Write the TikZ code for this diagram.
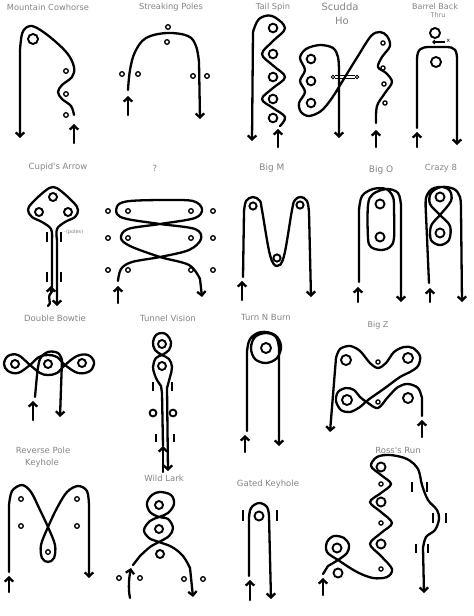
\documentclass[tikz,border=0pt]{standalone}
\usepackage{fontspec}
\newfontfamily\ttlfont{DejaVu Sans}
\usetikzlibrary{arrows.meta}
\tikzset{
  pth/.style={line width=2.3pt, line cap=round, line join=round},
  arr/.style={pth, -{Straight Barb[length=4pt,width=8.5pt]}},
  pole/.style={line width=1.3pt},
  barrel/.style={line width=1.9pt},
  gatebar/.style={line width=1.7pt},
  ttl/.style={text=black!48, inner sep=0pt, font=\ttlfont\fontsize{#1}{#1}\selectfont},
  ttl/.default=8.5
}
\begin{document}
\begin{tikzpicture}[x=1pt,y=-1pt]
\useasboundingbox[fill=white] (0,0) rectangle (474,616);

% ---------- titles ----------
\node[ttl=8.3] (t1)  at (48,7)    {Mountain Cowhorse};
\node[ttl=8.3] (t2)  at (171,7)   {Streaking Poles};
\node[ttl=8.3] (t3)  at (273,7)   {Tail Spin};
\node[ttl=10]  (t4a) at (340,7)   {Scudda};
\node[ttl=10]  (t4b) at (342,21)  {Ho};
\node[ttl=8]   (t5a) at (435,7)   {Barrel Back};
\node[ttl=6.5] (t5b) at (438,15)  {Thru};
\node[ttl]     (t6)  at (58,167)  {Cupid's Arrow};
\node[ttl]     (t7)  at (155,168) {?};
\node[ttl=9]   (t8)  at (272,168) {Big M};
\node[ttl=9]   (t9)  at (381,170) {Big O};
\node[ttl]     (t10) at (441,168) {Crazy 8};
\node[ttl]     (t11) at (55,318)  {Double Bowtie};
\node[ttl]     (t12) at (168,318) {Tunnel Vision};
\node[ttl]     (t13) at (266,317) {Turn N Burn};
\node[ttl=8]   (t14) at (378,325) {Big Z};
\node[ttl]     (t15a) at (43,450) {Reverse Pole};
\node[ttl]     (t15b) at (42,463) {Keyhole};
\node[ttl]     (t16) at (164,478) {Wild Lark};
\node[ttl]     (t17) at (268,484) {Gated Keyhole};
\node[ttl]     (t18) at (398,450) {Ross's Run};

% ---------- 1 Mountain Cowhorse ----------
\draw[barrel] (33,39) circle (5);
\foreach \y in {71,94,115} \draw[pole] (66,\y) circle (2.3);
\draw[arr] (74,143) -- (74,124);
\draw[arr] plot[smooth,tension=.6] coordinates {(74,115) (71,106) (62,99) (58,92) (62,85) (72,77) (74,67) (67,53) (50,37) (35,27) (27,27) (22,34) (20,50)} -- (20,138);

% ---------- 2 Streaking Poles ----------
\foreach \p in {(168,27),(167,42),(122,74),(138,74),(193,76),(207,76)} \draw[pole] \p circle (2.3);
\draw[arr] (128,115) -- (128,96);
\draw[arr] plot[smooth,tension=.6] coordinates {(128,90) (130,70) (135,52) (146,38) (167,33) (188,36) (196,46) (199,62)} -- (200,119);

% ---------- 3 Tail Spin ----------
\foreach \y in {28,54,77,99,118} \draw[barrel] (273,\y) circle (4.3);
\draw[arr] (278,147) -- (278,129);
\draw[arr] plot[smooth,tension=.6] coordinates {(280,126) (285,117) (273,108) (262,99) (273,88) (285,77) (273,65.5) (262,54) (273,41) (285,28) (272,16) (259,19) (253,32)} -- (252,141);

% ---------- 4 Scudda Ho ----------
\foreach \y in {59,81,103} \draw[barrel] (311,\y) circle (4.3);
\foreach \p in {(383,43),(383,68),(384,84),(385,103)} \draw[pole] \p circle (2.1);
\draw[arr] (376,147) -- (376,130);
\draw[arr] plot[smooth,tension=.55] coordinates {(376,123) (377,106) (385,93) (392,82) (386,73) (378,67) (382,57) (390,46) (387,36) (380,32) (371,36) (358,56) (345,77) (332,98) (321,111) (309,116) (301,112) (299,103) (305,92) (300,81) (305,70) (300,58) (306,49) (320,45) (333,48) (338,57) (339,70)} -- (339,138);
\draw[line width=0.9pt] (333,77) circle (1.8) (357,77) circle (1.8);
\draw[line width=0.9pt] (335,75.8) -- (355,75.8) (335,78.4) -- (355,78.4);

% ---------- 5 Barrel Back Thru ----------
\draw[barrel] (435,33) circle (5);
\draw[barrel] (436,62) circle (5);
\draw[arr] (417,147) -- (417,132);
\draw[arr] (417,128) -- (417,60) .. controls (417,49) and (421,47) .. (430,47) -- (446,47) .. controls (455,47) and (457,50) .. (457,60) -- (457,145);
\draw[line width=1.1pt, -{Straight Barb[length=2pt,width=4pt]}] (445,42) -- (432,42);
\node[inner sep=0pt, font=\ttlfont\fontsize{6}{6}\selectfont] (bx) at (448.5,41) {x};

% ---------- 6 Cupid's Arrow ----------
\draw[barrel] (53,197) circle (4);
\draw[barrel] (39,212) circle (4);
\draw[barrel] (68,212) circle (4);
\draw[arr] (48,306) .. controls (53,303) and (46,298) .. (51,293) -- (51,286);
\draw[arr] (52,292) -- plot[smooth,tension=.6] coordinates {(52,240) (51,229) (42,222) (32,217) (28,210) (32,203) (45,191) (53,187) (61,191) (74,203) (78,210) (75,217) (65,222) (57,229) (57,240)} -- (57,306);
\foreach \x in {47,61} {\draw[gatebar] (\x,232) -- (\x,242); \draw[gatebar] (\x,272) -- (\x,282);}
\node[text=black!50, inner sep=0pt, anchor=west, font=\ttlfont\fontsize{5}{5}\selectfont] (plab) at (64,232) {-(poles)};

% ---------- 7 ? ----------
\foreach \x in {108,128,191,213} {\draw[pole] (\x,211) circle (2.3); \draw[pole] (\x,238) circle (2.3); \draw[pole] (\x,270) circle (2.3);}
\draw[arr] (118,303) -- (118,286);
\draw[arr] plot[smooth,tension=.55] coordinates {(118,281) (121,269) (132,262) (160,257) (189,250) (201,239) (195,229) (160,224) (127,219) (117,214) (118,205) (130,201) (165,200) (193,201) (202,209) (195,218) (160,224) (128,229) (121,238) (130,246) (160,257) (189,265) (200,279)} -- (202,297);

% ---------- 8 Big M ----------
\draw[barrel] (253,206) circle (3.6);
\draw[barrel] (300,205) circle (3.6);
\draw[barrel] (277,258) circle (3.6);
\draw[arr] (242,300) -- (242,281);
\draw[arr] (243,277) -- plot[smooth,tension=.6] coordinates {(244,212) (246,201) (253,197) (260,201) (262,210) (270,255) (277,266) (284,256) (292,210) (295,200) (301,197) (307,201) (309,212)} -- (311,297);

% ---------- 9 Big O ----------
\draw[barrel] (380,204) circle (4.5);
\draw[barrel] (380,237) circle (4.5);
\draw[arr] (358,302) -- (358,287);
\draw[arr] (359,282) -- plot[smooth,tension=.55] coordinates {(359,210) (362,196) (373,189) (386,189) (393,197) (394,210) (394,238) (390,247) (381,250) (371,247) (368,238) (368,205) (373,194) (387,189) (398,193) (401,205)} -- (401,302);

% ---------- 10 Crazy 8 ----------
\draw[barrel] (440,197) circle (4.5);
\draw[barrel] (440,233) circle (4.5);
\draw[arr] (430,302) -- (430,288);
\draw[arr] (429,283) -- plot[smooth,tension=.55] coordinates {(426,215) (426,198) (432,189) (443,187) (450,191) (451,201) (440,215) (431,226) (431,240) (440,245) (449,240) (450,226) (440,215) (430,204) (431,193) (441,187) (454,189) (460,197) (461,210)} -- (462,302);

% ---------- 11 Double Bowtie ----------
\draw[barrel] (15,364) circle (4);
\draw[barrel] (48,364) circle (4);
\draw[barrel] (82,363) circle (4);
\draw[pth] plot[smooth cycle,tension=.6] coordinates {(30,365) (18,373) (8,371) (4,364) (8,356) (18,355) (30,365) (40,373) (48,375) (57,373) (65,365) (77,356) (88,355) (94,362) (90,371) (78,373) (65,365) (57,357) (48,355) (39,357)};
\draw[arr] (33,420) -- (33,401);
\draw[arr] (35,397) -- plot[smooth,tension=.6] coordinates {(37,375) (40,359) (48,352) (58,353) (62,360)} -- (60,417);

% ---------- 12 Tunnel Vision ----------
\draw[barrel] (162,344) circle (4);
\draw[barrel] (162,366) circle (4);
\draw[barrel] (153,413) circle (3.4);
\draw[barrel] (173,413) circle (3.4);
\draw[gatebar] (153,382) -- (153,391); \draw[gatebar] (172,382) -- (172,391);
\draw[gatebar] (156,434) -- (156,442); \draw[gatebar] (174,434) -- (174,442);
\draw[arr] (163,472) -- (163,446);
\draw[arr] (163,446) -- (162,393) -- plot[smooth,tension=.6] coordinates {(161,386) (156,378) (153,367) (156,358) (162,355) (169,350) (171,342) (167,335) (162,333) (156,335) (153,342) (155,350) (162,355) (169,359) (172,367) (170,377) (167,388)} -- (168,471);

% ---------- 13 Turn N Burn ----------
\draw[barrel] (266,348) circle (5);
\draw[arr] (245,452) -- (245,435);
\draw[arr] (247,431) -- plot[smooth,tension=.6] coordinates {(247,352) (250,339) (261,332) (275,335) (281,346) (277,358) (266,363) (255,359) (251,348) (255,337) (266,333) (276,337) (279,348)} -- (279,446);

% ---------- 14 Big Z ----------
\draw[barrel] (346,360) circle (5);
\draw[barrel] (408,358) circle (5);
\draw[barrel] (347,400) circle (5);
\draw[barrel] (408,398) circle (5);
\draw[pole] (378,362) circle (2.1);
\draw[pole] (378,402) circle (2.1);
\draw[arr] (422,437) -- (422,420);
\draw[arr] (422,416) -- plot[smooth,tension=.55] coordinates {(422,398) (418,388) (408,384) (398,387) (388,397) (378,408) (368,403) (360,397) (354,390) (346,388) (338,392) (336,401) (341,410) (350,412) (360,407) (368,400) (385,388) (400,377) (410,372) (418,366) (420,356) (413,348) (404,347) (394,352) (386,363) (378,368) (370,363) (360,351) (350,346) (340,349) (336,358)} -- (330,432);

% ---------- 15 Reverse Pole Keyhole ----------
\foreach \p in {(21,499),(77,499),(21,526),(77,526),(48,552)} \draw[pole] \p circle (2.3);
\draw[arr] (9,592) -- (9,576);
\draw[arr] (9,572) -- plot[smooth,tension=.55] coordinates {(9,505) (12,491) (22,485) (31,492) (40,510) (48,527) (55,545) (54,558) (48,562) (42,558) (41,545) (48,527) (57,508) (67,492) (78,486) (87,491) (89,505)} -- (89,578);

% ---------- 16 Wild Lark ----------
\draw[barrel] (159,505) circle (4);
\draw[barrel] (159,529) circle (4);
\draw[barrel] (160,554) circle (4);
\foreach \p in {(119,578),(140,578),(184,579),(203,579)} \draw[pole] \p circle (2.3);
\draw[arr] (130,598) .. controls (128,588) and (129,578) .. (131,568);
\draw[arr] (133,565) -- plot[smooth,tension=.6] coordinates {(140,556) (150,547) (159,542) (169,536) (173,528) (168,519) (159,517) (150,512) (147,503) (152,495) (160,492) (171,495) (174,504) (168,513) (159,517) (150,521) (144,530) (149,538) (159,542) (172,547) (183,556) (190,568)} -- (193,597);

% ---------- 17 Gated Keyhole ----------
\draw[barrel] (259,516) circle (4.5);
\draw[gatebar] (243,510) -- (243,521);
\draw[gatebar] (277,510) -- (277,521);
\draw[arr] (250,600) -- (250,580);
\draw[arr] (249,576) -- plot[smooth,tension=.6] coordinates {(249,518) (251,508) (259,503) (267,507) (269,516)} -- (271,599);

% ---------- 18 Ross's Run ----------
\foreach \y in {467,502,544} \draw[barrel] (381,\y) circle (4.5);
\foreach \y in {484,523,569} \draw[pole] (381,\y) circle (2.1);
\draw[barrel] (337,548) circle (4.5);
\draw[barrel] (338,573) circle (4.5);
\draw[gatebar] (412,482) -- (412,492); \draw[gatebar] (427,482) -- (427,492);
\draw[gatebar] (433,513) -- (433,523); \draw[gatebar] (446,513) -- (446,523);
\draw[gatebar] (416,544) -- (416,553); \draw[gatebar] (428,544) -- (428,553);
\draw[arr] (323,595) -- (323,578);
\draw[arr] (323,574) -- plot[smooth,tension=.55] coordinates {(328,566) (338,560) (347,553) (349,545) (344,538) (334,536) (327,542) (327,552) (338,560) (357,572) (373,578) (387,577) (392,569) (381,556) (370,544) (381,533) (392,523) (381,512) (370,502) (381,493) (391,484) (381,475) (371,466) (377,457) (390,455) (407,459) (418,469) (422,485) (428,500) (437,510) (439,519) (435,530) (426,537) (423,548)} -- (424,593);

\end{tikzpicture}
\end{document}
